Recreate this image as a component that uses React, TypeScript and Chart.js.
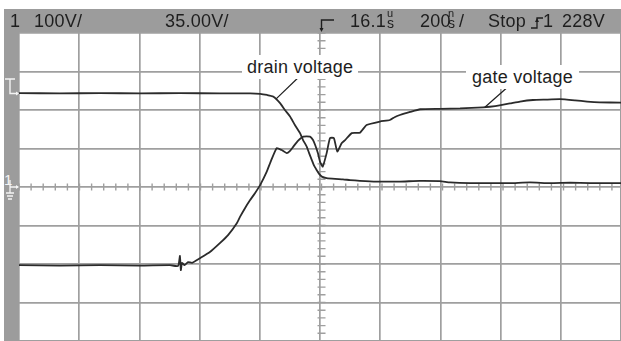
import React, { useEffect, useRef } from "react";
import { Chart, registerables } from "chart.js";

Chart.register(...registerables);

// time axis: ns relative to trigger (200 ns/div), vertical: divisions from centre
const timeMin = -1000;
const timeMax = 990;
const divMin = -4;
const divMax = 4;

const drainTime = [-1000, -865, -732, -600, -468, -336, -236, -203, -180, -160, -137, -121, -104, -88, -71, -61, -49, -41, -32, -25, -16, -8, 1, 17, 45, 71, 94, 127, 182, 259, 325, 391, 425, 491, 557, 623, 689, 755, 822, 888, 954, 990];
const drainDiv = [2.44, 2.43, 2.44, 2.43, 2.44, 2.43, 2.43, 2.42, 2.39, 2.35, 2.18, 2.0, 1.83, 1.61, 1.4, 1.22, 1.05, 0.88, 0.7, 0.56, 0.44, 0.34, 0.27, 0.23, 0.21, 0.2, 0.18, 0.16, 0.14, 0.14, 0.16, 0.15, 0.12, 0.1, 0.1, 0.1, 0.12, 0.1, 0.11, 0.1, 0.1, 0.1];

const gateTime = [-1000, -865, -732, -600, -501, -474, -468, -465, -461, -453, -441, -428, -402, -369, -336, -309, -280, -269, -253, -236, -220, -203, -181, -167, -148, -132, -115, -104, -93, -78, -60, -38, -28, -21, -12, -5, 4, 17, 28, 41, 52, 67, 78, 100, 127, 149, 193, 226, 243, 259, 293, 326, 392, 458, 534, 574, 623, 656, 699, 739, 788, 838, 878, 919, 990];
const gateDiv = [-2.03, -2.04, -2.03, -2.04, -2.03, -2.05, -1.79, -2.16, -1.97, -2.03, -1.95, -1.97, -1.85, -1.69, -1.46, -1.25, -0.94, -0.77, -0.55, -0.34, -0.16, 0.05, 0.4, 0.68, 1.01, 0.96, 0.88, 0.94, 1.05, 1.2, 1.31, 1.31, 1.22, 1.09, 0.88, 0.66, 0.53, 0.88, 1.27, 1.27, 0.92, 1.14, 1.22, 1.4, 1.41, 1.61, 1.7, 1.74, 1.82, 1.87, 1.95, 2.02, 2.03, 2.04, 2.07, 2.1, 2.17, 2.22, 2.26, 2.27, 2.28, 2.25, 2.22, 2.2, 2.19];

// leader lines (label end -> trace) in data units
const drainLeader = [[-68, 2.91], [-150, 2.29]];
const gateLeader = [[623, 2.65], [540, 2.07]];

const FONT = '"Liberation Sans", Arial, Helvetica, sans-serif';
const GRID = "#9f9f9f";
const HEAD = "#9c9c9c";
const INK = "#1e1e1e";

const scopePlugin = {
  id: "scope",
  beforeDatasetsDraw(chart: any) {
    const ctx = chart.ctx;
    const xs = chart.scales.x;
    const ys = chart.scales.y;
    const cx = xs.getPixelForValue(0);
    const cy = ys.getPixelForValue(0);
    ctx.save();
    ctx.strokeStyle = GRID;
    ctx.lineWidth = 1.4;
    ctx.beginPath();
    for (let t = timeMin; t <= timeMax; t += 40) {
      const px = xs.getPixelForValue(t);
      ctx.moveTo(px, cy - 3.5);
      ctx.lineTo(px, cy + 3.5);
    }
    for (let v = divMin; v <= divMax + 1e-6; v += 0.2) {
      const py = ys.getPixelForValue(v);
      ctx.moveTo(cx - 4, py);
      ctx.lineTo(cx + 4, py);
    }
    ctx.stroke();
    ctx.restore();
  },
  afterDatasetsDraw(chart: any) {
    const ctx = chart.ctx;
    const xs = chart.scales.x;
    const ys = chart.scales.y;
    ctx.save();
    ctx.strokeStyle = INK;
    ctx.lineWidth = 1.2;
    for (const l of [drainLeader, gateLeader]) {
      ctx.beginPath();
      ctx.moveTo(xs.getPixelForValue(l[0][0]), ys.getPixelForValue(l[0][1]));
      ctx.lineTo(xs.getPixelForValue(l[1][0]), ys.getPixelForValue(l[1][1]));
      ctx.stroke();
    }
    ctx.restore();
  },
};

function txt(left: number, baseline: number, size: number, text: string, extra: any = {}) {
  return (
    <span
      style={{
        position: "absolute",
        left,
        top: baseline - size * 0.8465,
        fontFamily: FONT,
        fontSize: size,
        lineHeight: size + "px",
        letterSpacing: size >= 16 ? "0.25px" : "0px",
        color: INK,
        whiteSpace: "nowrap",
        ...extra,
      }}
    >
      {text}
    </span>
  );
}

export default function App() {
  const ref = useRef<HTMLCanvasElement>(null);
  useEffect(() => {
    if (!ref.current) return;
    const chart = new Chart(ref.current, {
      type: "line",
      data: {
        datasets: [
          {
            label: "drain voltage",
            data: drainTime.map((t, i) => ({ x: t, y: drainDiv[i] })),
            borderColor: "#2b2b2b",
            borderWidth: 1.8,
            pointRadius: 0,
            tension: 0.15,
          },
          {
            label: "gate voltage",
            data: gateTime.map((t, i) => ({ x: t, y: gateDiv[i] })),
            borderColor: "#2b2b2b",
            borderWidth: 1.8,
            pointRadius: 0,
            tension: 0.15,
          },
        ],
      },
      options: {
        responsive: false,
        animation: false,
        events: [],
        layout: { padding: { left: 19, top: 33, right: 0, bottom: 0 } },
        plugins: { legend: { display: false }, tooltip: { enabled: false } },
        scales: {
          x: {
            type: "linear",
            min: timeMin,
            max: timeMax,
            ticks: { display: false, stepSize: 200, includeBounds: false },
            grid: { color: GRID, lineWidth: 1.7, drawTicks: false },
            border: { display: false },
          },
          y: {
            type: "linear",
            min: divMin,
            max: divMax,
            ticks: { display: false, stepSize: 1 },
            grid: { color: GRID, lineWidth: 1.7, drawTicks: false },
            border: { display: false },
          },
        },
      },
      plugins: [scopePlugin],
    } as any);
    return () => chart.destroy();
  }, []);

  const W = "#f4f4f4";
  return (
    <div style={{ position: "fixed", left: 0, top: 0, width: 621, height: 341, background: "#fff", overflow: "hidden" }}>
      <canvas ref={ref} width={621} height={341} style={{ position: "absolute", left: 0, top: 0 }} />
      {/* header bar */}
      <div style={{ position: "absolute", left: 4, top: 9, width: 617, height: 23, background: HEAD }} />
      {/* left strip */}
      <div style={{ position: "absolute", left: 4, top: 9, width: 15, height: 332, background: HEAD }} />
      {txt(10, 27.3, 18, "1")}
      {txt(34, 27.3, 18, "100V/")}
      {txt(165, 27.3, 18, "35.00V/")}
      {txt(350, 27.3, 18, "16.1")}
      {txt(387, 17, 11, "u")}
      {txt(387, 28, 14, "s")}
      {txt(420, 27.3, 18, "200")}
      {txt(448, 17, 11, "n")}
      {txt(448, 28, 14, "s")}
      {txt(459, 27.3, 18, "/")}
      {txt(488, 27.3, 18, "Stop")}
      {txt(543, 27.3, 18, "1")}
      {txt(562, 27.3, 18, "228V")}
      {txt(4, 185, 15, "1", { color: W })}
      <svg width={621} height={341} style={{ position: "absolute", left: 0, top: 0 }}>
        {/* trigger position marker */}
        <path d="M334 20 H321.5 V30" stroke={INK} strokeWidth={1.4} fill="none" />
        <path d="M319.5 28 L321.5 32 L323.5 28 Z" fill={INK} />
        {/* trigger edge symbol */}
        <path d="M531 28 H537 V18 H543" stroke={INK} strokeWidth={1.3} fill="none" />
        <path d="M535 22 L537 18 L539 22 Z" fill={INK} />
        {/* trigger level marker */}
        <path d="M5 79 H15 M10 79 V93.5 H18" stroke={W} strokeWidth={1.4} fill="none" />
        <path d="M16 91.5 L19 93.5 L16 95.5 Z" fill={W} />
        {/* ground marker */}
        <path d="M10 180 V193 M10 187 H18 M6 193 H14 M7 196 H13 M8 199 H12" stroke={W} strokeWidth={1.3} fill="none" />
        <path d="M16 185 L19 187 L16 189 Z" fill={W} />
      </svg>
      {txt(242, 73.5, 18, "drain voltage", { background: "#fff", padding: "3px 5px", top: 73.5 - 15.2 - 3 })}
      {txt(466, 83, 18, "gate voltage", { background: "#fff", padding: "3px 6px", top: 83 - 15.2 - 3 })}
    </div>
  );
}
